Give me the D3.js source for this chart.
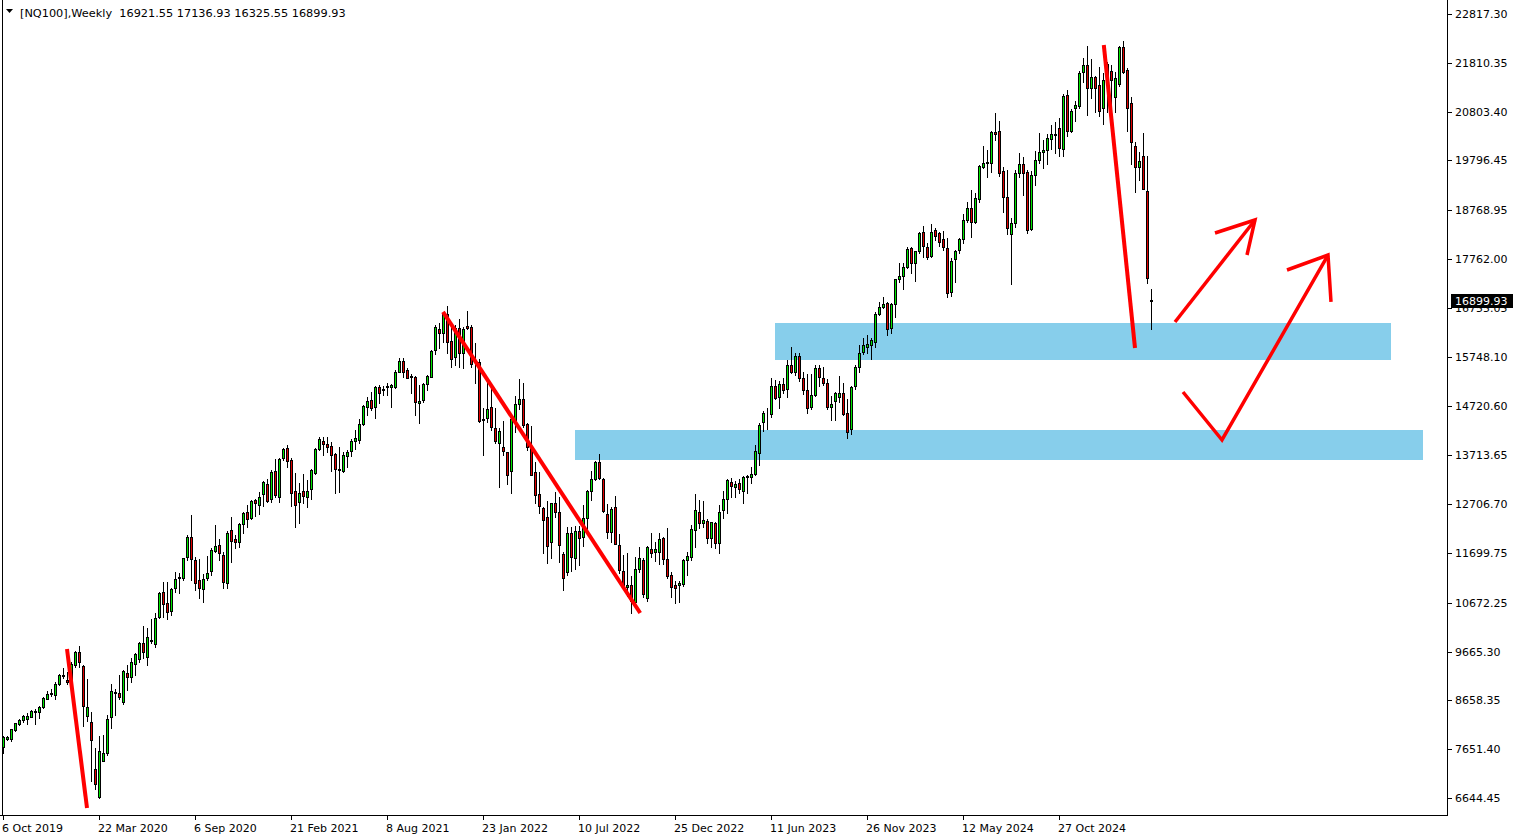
<!DOCTYPE html>
<html><head><meta charset="utf-8">
<script src="https://cdn.jsdelivr.net/npm/d3@7"></script>
<style>
html,body{margin:0;padding:0;background:#fff;}
svg{display:block;}
text{font-family:"DejaVu Sans",sans-serif;font-size:11px;fill:#000;}
</style>
</head><body>
<svg id="c" width="1519" height="840"></svg>
<script>
const symbolTitle = "[NQ100],Weekly";
const lastOHLC = ["16921.55","17136.93","16325.55","16899.93"];

const opens = [
7702,7854,7866,8052,8164,8246,8279,8320,8415,8412,
8527,8692,8800,8762,8989,9180,9076,8989,9394,9650,
9366,8335,8205,7237,6670,7411,7565,8320,8830,8803,
8630,9222,9146,9414,9517,9835,9546,9910,9820,10372,
10887,10659,10507,10969,11185,11175,11609,12022,11553,11140,
10949,11175,11331,11745,11862,11666,11072,12172,11986,11917,
12296,12550,12413,12791,12688,12908,13121,12805,13395,12859,
13651,13858,13616,12983,12750,12983,12846,13011,13355,13837,
14008,13940,13899,13733,13430,13395,13699,13795,14015,14029,
14359,14716,14854,14703,15116,15075,15130,15128,15115,15441,
15668,15472,15340,15335,14800,14854,15182,15336,15887,16313,
16230,16628,16071,15735,16333,15831,16374,16366,15625,15638,
14460,14475,14703,14270,13973,13878,13782,13395,14441,14765,
14868,14359,13905,13362,12915,12619,12434,11917,12722,12550,
11669,11312,12117,11588,12151,12034,12426,12976,13218,13569,
13218,12502,12124,12640,11856,11326,10990,11037,10693,11368,
11553,10762,11773,11725,11725,12001,11574,11243,11037,11037,
11058,11553,11622,12165,12537,12323,12358,12000,12310,11897,
12585,12805,13156,13066,13136,12983,13260,13260,13327,13768,
14406,14560,14560,15142,14910,15184,15075,15576,15438,15762,
15301,15060,14716,14957,15507,15301,15211,14716,14840,14909,
15005,14593,14249,15143,15528,15843,15950,15990,16060,16622,
16779,16848,16333,16828,17344,17412,17604,17983,17674,17934,
18314,18004,17831,18361,18293,18169,17983,17088,17761,17948,
18169,18568,18809,18533,18995,19667,19737,19737,20388,20404,
19578,19036,18279,18499,19543,19721,19551,18376,19490,19805,
19977,20011,20238,20330,20459,20026,21146,20410,20872,20919,
21615,21766,21297,21511,21352,20872,21387,21641,21098,21366,
22143,21662,20975,20094,19654,19888,19166,16921.55];

const highs = [
7922,7922,8073,8197,8276,8349,8391,8459,8473,8541,
8733,8844,8899,9043,9210,9315,9240,9450,9684,9779,
9387,9100,8418,7668,7922,7950,8355,8995,8885,9175,
9284,9387,9525,9628,9868,10192,10157,10342,10466,10893,
11099,11099,10976,11306,11291,11600,12069,12482,11608,11570,
11264,11636,11795,12275,11986,11725,12151,12434,12069,12323,
12550,12688,12791,12805,12962,13183,13218,13410,13631,13664,
13858,13926,13651,13342,13136,13327,13204,13437,13858,14085,
14085,14085,13989,13754,13884,13787,13823,14043,14236,14456,
14751,14910,15018,15143,15163,15150,15198,15182,15472,15714,
15714,15508,15400,15350,15163,15198,15370,15885,16401,16436,
16660,16793,16436,16401,16525,16367,16697,16400,16036,15700,
14686,15302,15096,14683,14270,14426,13788,14510,14937,15281,
15198,14386,14318,13581,13375,12653,12770,12736,12962,12846,
11717,12240,12226,12254,12254,12688,12997,13389,13602,13740,
13238,12708,12653,12874,12090,11656,11691,11223,11621,11828,
11588,11842,12104,11931,12117,12021,12207,11312,11120,11127,
11574,11710,12275,12908,12791,12770,12393,12344,12344,12688,
12983,13218,13251,13190,13218,13286,13307,13466,13926,14373,
14630,14683,15302,15266,15252,15302,15679,15954,15830,15830,
15438,15390,15390,15576,15576,15528,15281,14937,15025,15349,
15211,14870,15140,15576,15989,16136,16190,16130,16676,16882,
16985,16882,16861,17357,17674,17687,18017,18017,17934,18326,
18444,18087,18485,18396,18326,18350,18190,17777,17948,18190,
18685,18945,19180,19131,19702,20094,20011,20410,20769,20616,
19667,19599,18603,19599,19956,19860,19599,19585,19991,20356,
20218,20342,20527,20583,20665,21161,21249,20857,21022,21641,
21903,22157,21889,21544,21718,21594,21833,21765,21627,22163,
22260,21697,21111,20183,19977,20356,19888,17136.93];

const lows = [
7578,7833,7812,8032,8151,8217,8164,8307,8164,8299,
8506,8679,8747,8679,8974,9116,9005,8933,9340,9352,
8128,8238,7000,6835,6649,7407,7530,8095,8355,8679,
8583,8871,9043,9181,9456,9525,9387,9847,9752,10350,
10384,10330,10419,10900,10866,11150,11553,11141,10934,10775,
10693,11140,11237,11725,11547,10969,10969,11518,11807,11828,
12104,12227,12392,12467,12502,12667,12756,12756,12859,12756,
13616,13479,12667,12227,12310,12722,12640,12805,13327,13823,
13720,13788,13395,12929,12962,13369,13478,13699,13850,13973,
14338,14545,14648,14477,14798,14950,14957,14717,15095,15435,
15338,15301,14990,14545,14387,14819,15060,15323,15797,15921,
16057,15817,15541,15576,15541,15508,16312,15541,15198,14400,
13720,14406,14235,13960,13052,13720,13121,12941,14200,14662,
14303,13823,13307,12723,12529,11704,11497,11588,12447,11518,
10937,11244,11332,11360,11450,11842,12090,12791,13204,13218,
12550,12013,11930,11883,11279,10969,10817,10466,10660,11312,
10784,10714,11621,11540,11471,11471,11188,10796,10672,10693,
11024,11243,11553,11828,12207,12240,11910,11828,11795,11691,
12413,12529,12859,12845,12942,12736,12942,13149,13307,13513,
14220,14250,14510,14868,14695,15005,14922,15405,15370,15253,
14978,14579,14662,14937,15143,15163,14662,14441,14441,14819,
14545,14080,14160,15075,15438,15803,15830,15700,15950,16608,
16745,16194,16229,16573,17295,17138,17570,17480,17315,17893,
17810,17756,17810,18155,18031,17950,16985,16999,17295,17880,
18100,18532,18210,18512,18945,19634,19461,19564,20218,19475,
18739,18279,17247,18429,19448,19083,18306,18361,19289,19737,
19634,19723,20026,19944,19894,19894,20306,20377,20610,20884,
21421,20734,21091,20801,20719,20542,20801,20666,20789,21338,
21594,20404,19723,19139,19393,19201,17262,16325.55];

const closes = [
7895,7902,8060,8184,8255,8329,8329,8438,8440,8527,
8706,8789,8795,8995,9175,9160,9030,9408,9650,9456,
8541,8513,7840,6932,7607,7565,8267,8845,8800,8733,
9257,9146,9443,9614,9835,9662,9958,9890,10350,10866,
10645,10487,10949,11155,11195,11588,12022,11568,11085,10969,
11155,11278,11759,11842,11691,11106,12104,11951,11917,12296,
12516,12392,12770,12722,12859,13156,12777,13375,12894,13631,
13837,13602,12929,12681,12942,12873,12983,13410,13837,14044,
13940,13885,13726,13424,13410,13713,13781,14015,14064,14359,
14730,14834,14695,15116,14992,15050,15150,15155,15441,15668,
15441,15318,15330,14807,14830,15182,15340,15871,16366,16230,
16628,16057,15694,16333,15817,16312,16333,15590,15610,14427,
14440,14660,14290,14015,14220,13809,13307,14462,14771,14868,
14338,13891,13313,12894,12674,12378,11849,12722,12550,11862,
11189,12117,11608,12151,12000,12413,12976,13218,13581,13238,
12571,12137,12605,11889,11347,11003,11045,10707,11368,11601,
10845,11814,11704,11773,11980,11568,11230,10990,10969,11085,
11553,11636,12186,12584,12310,12378,12000,12330,11897,12537,
12805,13204,13086,13121,13011,13272,13285,13327,13802,14335,
14592,14565,15142,14889,15184,15060,15576,15438,15762,15301,
15060,14695,14957,15507,15322,15211,14703,14764,15005,14992,
14565,14201,15116,15528,15829,15981,16010,16090,16622,16779,
16834,16312,16834,17344,17406,17604,17969,17674,17928,18293,
18038,17810,18326,18244,18120,18004,17055,17721,17928,18169,
18568,18809,18533,19015,19681,19750,19770,20377,20335,19530,
19036,18396,18499,19531,19721,19543,18361,19489,19805,19977,
20011,20253,20340,20340,20059,21126,20410,20816,20940,21594,
21766,21284,21524,21297,20816,21455,21778,21456,21490,22130,
21615,20872,20183,19654,19784,19201,17365,16899.93];

const xTickLabels = ["6 Oct 2019","22 Mar 2020","6 Sep 2020","21 Feb 2021","8 Aug 2021","23 Jan 2022",
  "10 Jul 2022","25 Dec 2022","11 Jun 2023","26 Nov 2023","12 May 2024","27 Oct 2024"];
const xTickStep = 24;
const yTickLabels = ["22817.30","21810.35","20803.40","19796.45","18768.95","17762.00","16755.05",
  "15748.10","14720.60","13713.65","12706.70","11699.75","10672.25","9665.30","8658.35","7651.40","6644.45"];
const lastPrice = 16899.93;

// annotations in (bar index, price)
const zones = [
  {x0:193, x1:347, p0:16442, p1:15679},
  {x0:143, x1:355, p0:14235, p1:13617}
];
const penLines = [
  [[16,9717],[21,6437]],
  [[110,16670],[159.3,10460]],
  [[275.2,22178],[283,15927]]
];
const arrows = [
  [[293,16463],[313,18568]],
  [[303,18299],[313,18568],[311,17845]],
  [[295,15019],[304.75,14029],[331.25,17845]],
  [[321,17536],[331.25,17845],[332,16876]]
];

const svg = d3.select("#c");
const W = 1519, H = 840;
const plotRight = 1447, plotBottom = 815;

const x = d3.scaleLinear().domain([0, 361]).range([3, 1447]);
const y = d3.scaleLinear().domain([22817.30, 6644.45]).range([13.99, 797.94]);

svg.append("rect").attr("width", W).attr("height", H).attr("fill", "#fff");

// zones
svg.append("g").selectAll("rect").data(zones).join("rect")
  .attr("x", d => Math.round(x(d.x0)))
  .attr("y", d => Math.round(y(d.p0)))
  .attr("width", d => Math.round(x(d.x1)) - Math.round(x(d.x0)))
  .attr("height", d => Math.round(y(d.p1)) - Math.round(y(d.p0)))
  .attr("fill", "#87ceeb");

// candles
const bars = d3.range(closes.length).map(i => ({i, o: opens[i], h: highs[i], l: lows[i], c: closes[i]}));
const g = svg.append("g").attr("shape-rendering", "crispEdges");
g.selectAll("line.w").data(bars).join("line").attr("class","w")
  .attr("x1", d => Math.round(x(d.i)) + 0.5).attr("x2", d => Math.round(x(d.i)) + 0.5)
  .attr("y1", d => Math.round(y(d.h))).attr("y2", d => Math.round(y(d.l)) + 1)
  .attr("stroke", "#000").attr("stroke-width", 1);
g.selectAll("rect.b").data(bars).join("rect").attr("class","b")
  .attr("x", d => Math.round(x(d.i)) - 0.5)
  .attr("y", d => Math.round(y(Math.max(d.o, d.c))) + 0.5)
  .attr("width", 2)
  .attr("height", d => Math.max(0, Math.round(y(Math.min(d.o, d.c))) - Math.round(y(Math.max(d.o, d.c)))))
  .attr("fill", d => d.c >= d.o ? "#00e600" : "#e00000")
  .attr("stroke", "#000").attr("stroke-width", 1);

// pen annotations
const lineGen = d3.line().x(d => x(d[0])).y(d => y(d[1]));
svg.append("g").selectAll("path").data(penLines).join("path")
  .attr("d", lineGen).attr("fill", "none").attr("stroke", "#ff0000")
  .attr("stroke-width", 4).attr("stroke-linecap", "butt");
svg.append("g").selectAll("path").data(arrows).join("path")
  .attr("d", lineGen).attr("fill", "none").attr("stroke", "#ff0000")
  .attr("stroke-width", 3.5).attr("stroke-linejoin", "miter").attr("stroke-linecap", "butt");

// frame / axes
const ax = svg.append("g").attr("shape-rendering", "crispEdges");
ax.append("line").attr("x1", 2.5).attr("x2", 2.5).attr("y1", 0).attr("y2", plotBottom).attr("stroke", "#000");
ax.append("line").attr("x1", plotRight + 0.5).attr("x2", plotRight + 0.5).attr("y1", 0).attr("y2", plotBottom + 1).attr("stroke", "#000");
ax.append("line").attr("x1", 0).attr("x2", plotRight + 1).attr("y1", plotBottom + 0.5).attr("y2", plotBottom + 0.5).attr("stroke", "#000");

// y labels (the one under the price box is clipped, as in the reference)
svg.append("clipPath").attr("id", "belowBox").append("rect")
  .attr("x", 1448).attr("y", Math.round(y(lastPrice)) + 7).attr("width", 71).attr("height", 40);
const priceBoxTop = Math.round(y(lastPrice)) - 7, priceBoxBottom = Math.round(y(lastPrice)) + 7;
yTickLabels.forEach(t => {
  const yy = Math.round(y(+t));
  ax.append("line").attr("x1", plotRight).attr("x2", plotRight + 5).attr("y1", yy + 0.5).attr("y2", yy + 0.5).attr("stroke", "#000");
  const hidden = (yy - 5 < priceBoxBottom && yy + 5 > priceBoxTop);
  const tx = svg.append("text").attr("x", 1455).attr("y", yy + 4).text(t);
  if (hidden) tx.attr("clip-path", "url(#belowBox)");
});

// x labels
xTickLabels.forEach((t, k) => {
  const xx = Math.round(x(k * xTickStep));
  ax.append("line").attr("x1", xx + 0.5).attr("x2", xx + 0.5).attr("y1", plotBottom).attr("y2", plotBottom + 5).attr("stroke", "#000");
  svg.append("text").attr("x", xx - 1).attr("y", 832).text(t);
});

// last price box
const ly = y(lastPrice);
svg.append("rect").attr("x", 1451).attr("y", priceBoxTop).attr("width", 62).attr("height", 14).attr("fill", "#000");
svg.append("text").attr("x", 1455).attr("y", Math.round(ly) + 4).style("fill", "#fff").text(lastPrice.toFixed(2));

// header
svg.append("path").attr("d", "M6,9 L13,9 L9.5,13 Z").attr("fill", "#000");
svg.append("text").attr("x", 20).attr("y", 17).attr("xml:space", "preserve")
  .style("white-space", "pre").style("font-size", "11.3px")
  .text(symbolTitle + "  " + lastOHLC.join(" "));
</script>
</body></html>
